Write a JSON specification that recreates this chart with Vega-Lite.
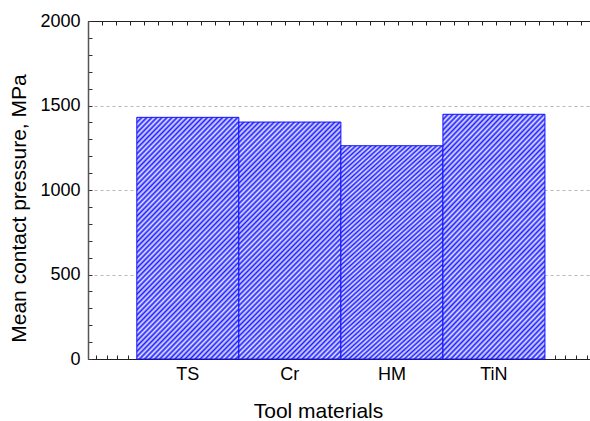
{
  "$schema": "https://vega.github.io/schema/vega-lite/v6.json",
  "width": 502,
  "height": 338,
  "autosize": {"type": "none"},
  "padding": {"left": 88, "top": 21, "right": 0, "bottom": 62},
  "background": "white",
  "config": {
    "view": {"stroke": null},
    "font": "Liberation Sans",
    "axis": {"labelFont": "Liberation Sans", "titleFont": "Liberation Sans", "labelColor": "#000", "titleColor": "#000", "titleFontWeight": "normal"}
  },
  "data": {
    "values": [
      {"material": "TS", "pressure": 1430},
      {"material": "Cr", "pressure": 1402},
      {"material": "HM", "pressure": 1262},
      {"material": "TiN", "pressure": 1448}
    ]
  },
  "resolve": {"scale": {"x": "independent"}, "axis": {"x": "independent"}},
  "layer": [
    {
      "mark": {
        "type": "bar",
        "stroke": "#1010ff",
        "strokeWidth": 1,
        "fill": {
          "gradient": "linear", "x1": 0, "y1": 0, "x2": 0.525, "y2": 1.207,
          "stops": [
            {"offset": 0, "color": "#2020ff"}, {"offset": 0.0075, "color": "#e4e4ff"},
            {"offset": 0.015, "color": "#2020ff"}, {"offset": 0.0225, "color": "#e4e4ff"},
            {"offset": 0.03, "color": "#2020ff"}, {"offset": 0.0375, "color": "#e4e4ff"},
            {"offset": 0.045, "color": "#2020ff"}, {"offset": 0.0525, "color": "#e4e4ff"},
            {"offset": 0.06, "color": "#2020ff"}, {"offset": 0.0675, "color": "#e4e4ff"},
            {"offset": 0.075, "color": "#2020ff"}, {"offset": 0.0825, "color": "#e4e4ff"},
            {"offset": 0.09, "color": "#2020ff"}, {"offset": 0.0975, "color": "#e4e4ff"},
            {"offset": 0.105, "color": "#2020ff"}, {"offset": 0.1125, "color": "#e4e4ff"},
            {"offset": 0.12, "color": "#2020ff"}, {"offset": 0.1275, "color": "#e4e4ff"},
            {"offset": 0.135, "color": "#2020ff"}, {"offset": 0.1425, "color": "#e4e4ff"},
            {"offset": 0.15, "color": "#2020ff"}, {"offset": 0.1575, "color": "#e4e4ff"},
            {"offset": 0.165, "color": "#2020ff"}, {"offset": 0.1725, "color": "#e4e4ff"},
            {"offset": 0.18, "color": "#2020ff"}, {"offset": 0.1875, "color": "#e4e4ff"},
            {"offset": 0.195, "color": "#2020ff"}, {"offset": 0.2025, "color": "#e4e4ff"},
            {"offset": 0.21, "color": "#2020ff"}, {"offset": 0.2175, "color": "#e4e4ff"},
            {"offset": 0.225, "color": "#2020ff"}, {"offset": 0.2325, "color": "#e4e4ff"},
            {"offset": 0.24, "color": "#2020ff"}, {"offset": 0.2475, "color": "#e4e4ff"},
            {"offset": 0.255, "color": "#2020ff"}, {"offset": 0.2625, "color": "#e4e4ff"},
            {"offset": 0.27, "color": "#2020ff"}, {"offset": 0.2775, "color": "#e4e4ff"},
            {"offset": 0.285, "color": "#2020ff"}, {"offset": 0.2925, "color": "#e4e4ff"},
            {"offset": 0.3, "color": "#2020ff"}, {"offset": 0.3075, "color": "#e4e4ff"},
            {"offset": 0.315, "color": "#2020ff"}, {"offset": 0.3225, "color": "#e4e4ff"},
            {"offset": 0.33, "color": "#2020ff"}, {"offset": 0.3375, "color": "#e4e4ff"},
            {"offset": 0.345, "color": "#2020ff"}, {"offset": 0.3525, "color": "#e4e4ff"},
            {"offset": 0.36, "color": "#2020ff"}, {"offset": 0.3675, "color": "#e4e4ff"},
            {"offset": 0.375, "color": "#2020ff"}, {"offset": 0.3825, "color": "#e4e4ff"},
            {"offset": 0.39, "color": "#2020ff"}, {"offset": 0.3975, "color": "#e4e4ff"},
            {"offset": 0.405, "color": "#2020ff"}, {"offset": 0.4125, "color": "#e4e4ff"},
            {"offset": 0.42, "color": "#2020ff"}, {"offset": 0.4275, "color": "#e4e4ff"},
            {"offset": 0.435, "color": "#2020ff"}, {"offset": 0.4425, "color": "#e4e4ff"},
            {"offset": 0.45, "color": "#2020ff"}, {"offset": 0.4575, "color": "#e4e4ff"},
            {"offset": 0.465, "color": "#2020ff"}, {"offset": 0.4725, "color": "#e4e4ff"},
            {"offset": 0.48, "color": "#2020ff"}, {"offset": 0.4875, "color": "#e4e4ff"},
            {"offset": 0.495, "color": "#2020ff"}, {"offset": 0.5025, "color": "#e4e4ff"},
            {"offset": 0.51, "color": "#2020ff"}, {"offset": 0.5175, "color": "#e4e4ff"},
            {"offset": 0.525, "color": "#2020ff"}, {"offset": 0.5325, "color": "#e4e4ff"},
            {"offset": 0.54, "color": "#2020ff"}, {"offset": 0.5475, "color": "#e4e4ff"},
            {"offset": 0.555, "color": "#2020ff"}, {"offset": 0.5625, "color": "#e4e4ff"},
            {"offset": 0.57, "color": "#2020ff"}, {"offset": 0.5775, "color": "#e4e4ff"},
            {"offset": 0.585, "color": "#2020ff"}, {"offset": 0.5925, "color": "#e4e4ff"},
            {"offset": 0.6, "color": "#2020ff"}, {"offset": 0.6075, "color": "#e4e4ff"},
            {"offset": 0.615, "color": "#2020ff"}, {"offset": 0.6225, "color": "#e4e4ff"},
            {"offset": 0.63, "color": "#2020ff"}, {"offset": 0.6375, "color": "#e4e4ff"},
            {"offset": 0.645, "color": "#2020ff"}, {"offset": 0.6525, "color": "#e4e4ff"},
            {"offset": 0.66, "color": "#2020ff"}, {"offset": 0.6675, "color": "#e4e4ff"},
            {"offset": 0.675, "color": "#2020ff"}, {"offset": 0.6825, "color": "#e4e4ff"},
            {"offset": 0.69, "color": "#2020ff"}, {"offset": 0.6975, "color": "#e4e4ff"},
            {"offset": 0.705, "color": "#2020ff"}, {"offset": 0.7125, "color": "#e4e4ff"},
            {"offset": 0.72, "color": "#2020ff"}, {"offset": 0.7275, "color": "#e4e4ff"},
            {"offset": 0.735, "color": "#2020ff"}, {"offset": 0.7425, "color": "#e4e4ff"},
            {"offset": 0.75, "color": "#2020ff"}, {"offset": 0.7575, "color": "#e4e4ff"},
            {"offset": 0.765, "color": "#2020ff"}, {"offset": 0.7725, "color": "#e4e4ff"},
            {"offset": 0.78, "color": "#2020ff"}, {"offset": 0.7875, "color": "#e4e4ff"},
            {"offset": 0.795, "color": "#2020ff"}, {"offset": 0.8025, "color": "#e4e4ff"},
            {"offset": 0.81, "color": "#2020ff"}, {"offset": 0.8175, "color": "#e4e4ff"},
            {"offset": 0.825, "color": "#2020ff"}, {"offset": 0.8325, "color": "#e4e4ff"},
            {"offset": 0.84, "color": "#2020ff"}, {"offset": 0.8475, "color": "#e4e4ff"},
            {"offset": 0.855, "color": "#2020ff"}, {"offset": 0.8625, "color": "#e4e4ff"},
            {"offset": 0.87, "color": "#2020ff"}, {"offset": 0.8775, "color": "#e4e4ff"},
            {"offset": 0.885, "color": "#2020ff"}, {"offset": 0.8925, "color": "#e4e4ff"},
            {"offset": 0.9, "color": "#2020ff"}, {"offset": 0.9075, "color": "#e4e4ff"},
            {"offset": 0.915, "color": "#2020ff"}, {"offset": 0.9225, "color": "#e4e4ff"},
            {"offset": 0.93, "color": "#2020ff"}, {"offset": 0.9375, "color": "#e4e4ff"},
            {"offset": 0.945, "color": "#2020ff"}, {"offset": 0.9525, "color": "#e4e4ff"},
            {"offset": 0.96, "color": "#2020ff"}, {"offset": 0.9675, "color": "#e4e4ff"},
            {"offset": 0.975, "color": "#2020ff"}, {"offset": 0.9825, "color": "#e4e4ff"},
            {"offset": 0.99, "color": "#2020ff"}, {"offset": 0.9975, "color": "#e4e4ff"},
            {"offset": 1, "color": "#e4e4ff"}
          ]
        }
      },
      "encoding": {
        "x": {
          "field": "material", "type": "nominal", "sort": null,
          "scale": {"paddingInner": 0, "paddingOuter": 0.46, "align": 0.52},
          "axis": {
            "orient": "bottom", "ticks": false, "domain": true, "domainColor": "#222", "domainWidth": 1.2,
            "labelAngle": 0, "labelFontSize": 18, "labelPadding": 6,
            "title": "Tool materials", "titleFontSize": 21,
            "titleX": 230, "titleY": 58, "titleBaseline": "alphabetic", "titleAlign": "center", "titleAnchor": null
          }
        },
        "y": {
          "field": "pressure", "type": "quantitative",
          "scale": {"domain": [0, 2000], "nice": false, "zero": true},
          "axis": {
            "values": [0, 100, 200, 300, 400, 500, 600, 700, 800, 900, 1000, 1100, 1200, 1300, 1400, 1500, 1600, 1700, 1800, 1900, 2000],
            "labelExpr": "datum.value % 500 === 0 ? datum.label : ''",
            "format": "d",
            "tickSize": -4, "tickColor": "#333", "labelPadding": 12, "labelFontSize": 18,
            "domainColor": "#555", "domainWidth": 1.5,
            "grid": true, "gridColor": "#b8b8b8", "gridDash": [3, 3],
            "gridOpacity": {"condition": {"test": "datum.value % 500 === 0 && datum.value > 0 && datum.value < 2000", "value": 1}, "value": 0},
            "title": "Mean contact pressure, MPa", "titleFontSize": 21,
            "titleX": -63, "titleY": 187, "titleBaseline": "alphabetic", "titleAlign": "center", "titleAngle": -90
          }
        }
      }
    },
    {
      "mark": {"type": "point", "opacity": 0},
      "encoding": {
        "x": {
          "datum": 0, "type": "quantitative",
          "scale": {"domain": [-0.75, 46.31], "nice": false, "zero": false},
          "axis": {
            "orient": "bottom", "values": [0,1,2,3,4,5,6,7,8,9,10,11,12,13,14,15,16,17,18,19,20,21,22,23,24,25,26,27,28,29,30,31,32,33,34,35,36,37,38,39,40,41,42,43,44,45,46],
            "labels": false, "domain": false, "grid": false, "tickSize": -4, "tickColor": "#222", "title": null
          }
        }
      }
    },
    {
      "mark": {"type": "point", "opacity": 0},
      "encoding": {
        "x": {
          "datum": 0, "type": "quantitative",
          "scale": {"domain": [0, 35.65], "nice": false, "zero": false},
          "axis": {
            "orient": "top", "values": [0,1,2,3,4,5,6,7,8,9,10,11,12,13,14,15,16,17,18,19,20,21,22,23,24,25,26,27,28,29,30,31,32,33,34,35],
            "labels": false, "domain": true, "domainColor": "#222", "domainWidth": 1.2, "grid": false, "tickSize": -4, "tickColor": "#222", "title": null
          }
        }
      }
    }
  ]
}
